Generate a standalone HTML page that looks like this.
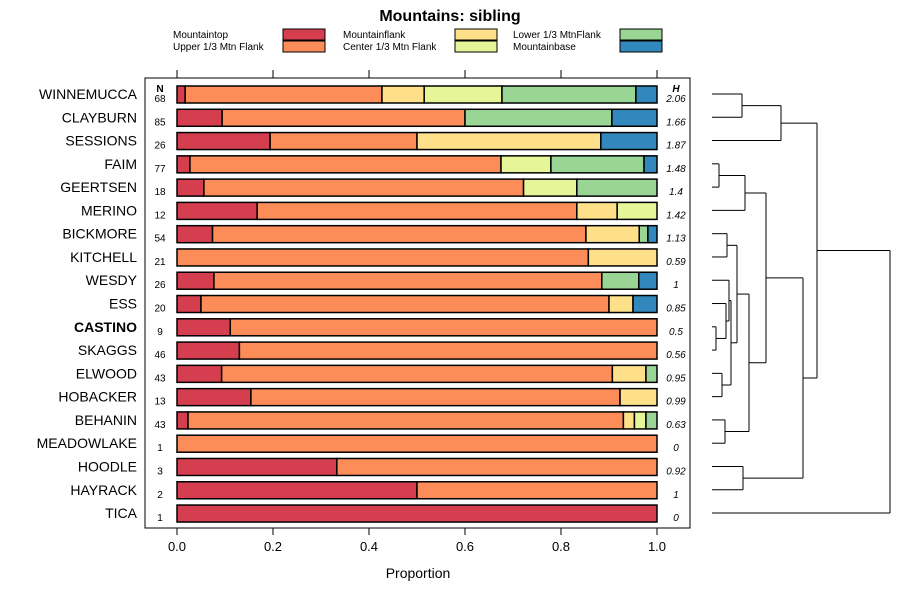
<!DOCTYPE html>
<html><head><meta charset="utf-8"><style>
body{margin:0;background:#fff;font-family:"Liberation Sans",sans-serif}
svg text{font-family:"Liberation Sans",sans-serif}
</style></head><body>
<svg id="c" width="900" height="600"></svg>
<script>
const categories=["WINNEMUCCA","CLAYBURN","SESSIONS","FAIM","GEERTSEN","MERINO","BICKMORE","KITCHELL","WESDY","ESS","CASTINO","SKAGGS","ELWOOD","HOBACKER","BEHANIN","MEADOWLAKE","HOODLE","HAYRACK","TICA"];
const nValues=[68,85,26,77,18,12,54,21,26,20,9,46,43,13,43,1,3,2,1];
const hValues=["2.06","1.66","1.87","1.48","1.4","1.42","1.13","0.59","1","0.85","0.5","0.56","0.95","0.99","0.63","0","0.92","1","0"];
const seriesNames=["Mountaintop","Upper 1/3 Mtn Flank","Mountainflank","Center 1/3 Mtn Flank","Lower 1/3 MtnFlank","Mountainbase"];
const mountaintop=[.017,.094,.194,.027,.056,.167,.074,0,.077,.05,.111,.13,.093,.154,.023,0,.333,.5,1];
const upperFlank=[.41,.506,.306,.648,.666,.666,.778,.857,.808,.85,.889,.87,.814,.769,.907,1,.667,.5,0];
const mountainflank=[.088,0,.383,0,0,.084,.111,.143,0,.05,0,0,.07,.077,.023,0,0,0,0];
const centerFlank=[.162,0,0,.104,.111,.083,0,0,0,0,0,0,0,0,.024,0,0,0,0];
const lowerFlank=[.279,.306,0,.194,.167,0,.018,0,.077,0,0,0,.023,0,.023,0,0,0,0];
const mountainbase=[.044,.094,.117,.027,0,0,.019,0,.038,.05,0,0,0,0,0,0,0,0,0];
const xTicks=[0,0.2,0.4,0.6,0.8,1.0];
const xTickLabels=["0.0","0.2","0.4","0.6","0.8","1.0"];
const colors=["#D53E4F","#FC8D59","#FEE08B","#E6F598","#99D594","#3288BD"];
const series=[mountaintop,upperFlank,mountainflank,centerFlank,lowerFlank,mountainbase];

const svg=document.getElementById('c');const NS="http://www.w3.org/2000/svg";
function mk(t,a,txt){const e=document.createElementNS(NS,t);for(const k in a)e.setAttribute(k,a[k]);if(txt!==undefined)e.textContent=txt;svg.appendChild(e);return e;}
const x=v=>177+v*480;
const y=i=>94+i*23.28;

let t=mk('text',{x:450,y:21,'text-anchor':'middle','font-size':16,'font-weight':'bold'},'Mountains: sibling');


// legend
const lx=[173,343,513],rx=[283,455,620];
seriesNames.forEach((n,k)=>{const c=Math.floor(k/2),r=k%2;
 let g=mk('text',{x:lx[c],y:38+r*12,'font-size':10},n);
 
 
 let rr=mk('rect',{x:rx[c],y:29+r*12,width:42,height:11,fill:colors[k],stroke:'#000','stroke-width':1});
 
 
});
// plot box
let box=mk('rect',{x:145,y:78,width:545,height:450,fill:'none',stroke:'#000','stroke-width':1});


xTicks.forEach((v,k)=>{
 mk('line',{x1:x(v),x2:x(v),y1:70,y2:78,stroke:'#000'});
 mk('line',{x1:x(v),x2:x(v),y1:528,y2:535,stroke:'#000'});
 let tl=mk('text',{x:x(v),y:551,'text-anchor':'middle','font-size':13},xTickLabels[k]);
 
 
});
let xt=mk('text',{x:418,y:578,'text-anchor':'middle','font-size':14},'Proportion');


mk('text',{x:160,y:92,'text-anchor':'middle','font-size':10,'font-weight':'bold'},'N');
mk('text',{x:676,y:92,'text-anchor':'middle','font-size':10,'font-weight':'bold','font-style':'italic'},'H');
categories.forEach((c,i)=>{
 const cy=y(i);
 let lab=mk('text',{x:137,y:cy+5,'text-anchor':'end','font-size':14,'font-weight':c==='CASTINO'?'bold':'normal'},c);
 
 
 mk('text',{x:160,y:cy+8,'text-anchor':'middle','font-size':10},nValues[i]);
 mk('text',{x:676,y:cy+8,'text-anchor':'middle','font-size':10,'font-style':'italic'},hValues[i]);
 let acc=0;
 series.forEach((s,k)=>{const v=s[i];if(v<=0)return;
  let r=mk('rect',{x:x(acc),y:cy-8,width:x(acc+v)-x(acc),height:17,fill:colors[k],stroke:'#000','stroke-width':1.5});
  
  
  acc+=v;});
});
// dendrogram
const leaf=712;
function L(a,b,c,d){let l=mk('line',{x1:a,y1:b,x2:c,y2:d,stroke:'#000','stroke-width':1});}
function node(n){ if(typeof n==='number')return {x:leaf,y:y(n)};
 const a=node(n[0]),b=node(n[1]);
 L(a.x,a.y,n[2],a.y);L(b.x,b.y,n[2],b.y);L(n[2],a.y,n[2],b.y);
 return {x:n[2],y:(a.y+b.y)/2};}
const tree=[[[[0,1,742],2,781],[[[[3,4,719],5,745],[[[6,7,727],[[8,[9,[10,11,716],726],729],[12,13,722],731],737],[14,15,725],749],766],[16,17,743],803],817],18,890];
node(tree);
</script>
</body></html>
